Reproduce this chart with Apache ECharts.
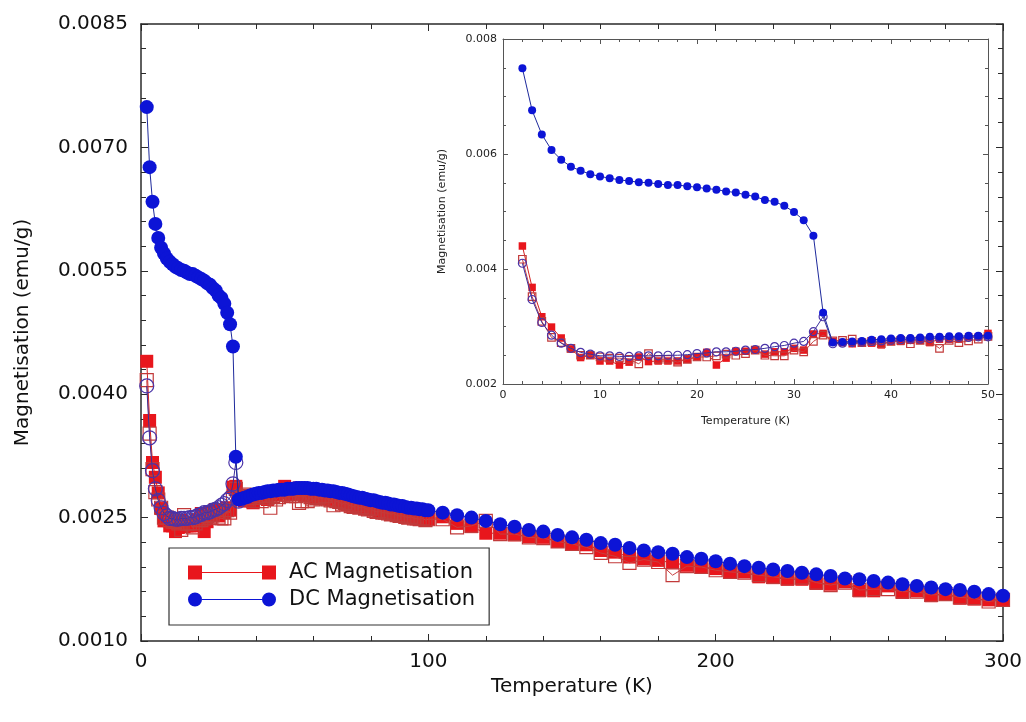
<!DOCTYPE html>
<html>
<head>
<meta charset="utf-8">
<title>Magnetisation vs Temperature</title>
<script src="https://cdn.jsdelivr.net/npm/echarts@6/dist/echarts.min.js"></script>
<style>
  html, body { margin: 0; padding: 0; background: #ffffff; }
  #chart { width: 1026px; height: 722px; }
</style>
</head>
<body>
<div id="chart"></div>
<script>
// Temperatures (K): 1 K steps up to 100 K, then 5 K steps to 300 K
const tempLow = [2,3,4,5,6,7,8,9,10,11,12,13,14,15,16,17,18,19,20,21,22,23,24,25,26,27,28,29,30,
  31,32,33,34,35,36,37,38,39,40,41,42,43,44,45,46,47,48,49,50,51,52,53,54,55,56,57,58,59,60,
  61,62,63,64,65,66,67,68,69,70,71,72,73,74,75,76,77,78,79,80,81,82,83,84,85,86,87,88,89,90,
  91,92,93,94,95,96,97,98,99,100];
const tempHigh = [105,110,115,120,125,130,135,140,145,150,155,160,165,170,175,180,185,190,195,200,
  205,210,215,220,225,230,235,240,245,250,255,260,265,270,275,280,285,290,295,300];

// AC magnetisation (emu/g), filled squares
const acLow = [0.00440,0.00368,0.00317,0.00299,0.00280,0.00261,0.00246,0.00250,0.00240,0.00240,
  0.00233,0.00238,0.00247,0.00239,0.00240,0.00240,0.00240,0.00243,0.00247,0.00255,0.00233,0.00245,
  0.00257,0.00257,0.00259,0.00252,0.00256,0.00256,0.00262,0.00259,0.00287,0.00288,0.00274,0.00272,
  0.00270,0.00272,0.00271,0.00268,0.00274,0.00274,0.00276,0.00276,0.00272,0.00278,0.00278,0.00278,
  0.00282,0.00282,0.00288,
  0.00280,0.00278,0.00284,0.00279,0.00286,0.00280,0.00277,0.00279,0.00276,0.00278,0.00275,0.00283,
  0.00276,0.00280,0.00273,0.00272,0.00271,0.00272,0.00270,0.00268,0.00269,0.00266,0.00265,0.00266,
  0.00264,0.00263,0.00264,0.00261,0.00262,0.00260,0.00259,0.00260,0.00258,0.00258,0.00256,0.00256,
  0.00254,0.00255,0.00253,0.00253,0.00252,0.00252,0.00250,0.00251,0.00250,0.00249,0.00248,0.00249,
  0.00247,0.00248];
const acHigh = [0.00251,0.00243,0.00239,0.00231,0.00231,0.00229,0.00227,0.00226,0.00221,0.00218,
  0.00217,0.00210,0.00208,0.00202,0.00200,0.00198,0.00195,0.00192,0.00190,0.00188,0.00184,0.00184,
  0.00178,0.00177,0.00175,0.00175,0.00170,0.00169,0.00172,0.00161,0.00161,0.00167,0.00159,0.00161,
  0.00155,0.00157,0.00152,0.00151,0.00150,0.00150];

// AC magnetisation (emu/g), second run, open squares
const acOpenLow = [0.00417,0.00352,0.00309,0.00281,0.00272,0.00262,0.00250,0.00250,0.00247,0.00245,
  0.00245,0.00243,0.00235,0.00253,0.00243,0.00243,0.00238,0.00243,0.00247,0.00247,0.00249,0.00252,
  0.00250,0.00253,0.00259,0.00250,0.00249,0.00249,0.00259,0.00256,0.00274,0.00285,0.00275,0.00276,
  0.00278,0.00272,0.00274,0.00270,0.00274,0.00276,0.00270,0.00276,0.00274,0.00262,0.00276,0.00272,
  0.00275,0.00278,0.00283,
  0.00278,0.00276,0.00279,0.00276,0.00268,0.00270,0.00277,0.00270,0.00275,0.00272,0.00274,0.00275,
  0.00273,0.00276,0.00272,0.00271,0.00265,0.00270,0.00269,0.00266,0.00268,0.00266,0.00264,0.00263,
  0.00265,0.00262,0.00263,0.00261,0.00260,0.00261,0.00258,0.00257,0.00258,0.00256,0.00256,0.00255,
  0.00254,0.00255,0.00253,0.00252,0.00252,0.00251,0.00250,0.00251,0.00249,0.00249,0.00248,0.00249,
  0.00247,0.00248];
const acOpenHigh = [0.00248,0.00238,0.00240,0.00246,0.00230,0.00230,0.00226,0.00225,0.00221,0.00218,
  0.00214,0.00207,0.00203,0.00195,0.00199,0.00196,0.00180,0.00191,0.00190,0.00186,0.00184,0.00183,
  0.00180,0.00178,0.00176,0.00177,0.00171,0.00168,0.00171,0.00162,0.00163,0.00163,0.00160,0.00160,
  0.00156,0.00157,0.00153,0.00152,0.00148,0.00150];

// DC magnetisation (emu/g), field cooled, filled circles
const dcLow = [0.00749,0.00676,0.00634,0.00607,0.00590,0.00578,0.00571,0.00565,0.00561,0.00558,
  0.00555,0.00553,0.00551,0.00550,0.00548,0.00546,0.00546,0.00544,0.00542,0.00540,0.00538,0.00535,
  0.00533,0.00529,0.00526,0.00520,0.00517,0.00510,0.00499,0.00485,0.00458,0.00324,
  0.00272,0.00273,0.00274,0.00275,0.00277,0.00278,0.00279,0.00280,0.00280,0.00281,0.00282,0.00282,
  0.00283,0.00283,0.00284,0.00284,0.00284,
  0.00285,0.00285,0.00285,0.00286,0.00286,0.00286,0.00286,0.00286,0.00285,0.00285,0.00285,0.00284,
  0.00284,0.00283,0.00283,0.00282,0.00282,0.00281,0.00280,0.00280,0.00279,0.00278,0.00277,0.00276,
  0.00275,0.00274,0.00274,0.00273,0.00272,0.00271,0.00271,0.00270,0.00269,0.00268,0.00268,0.00267,
  0.00266,0.00266,0.00265,0.00264,0.00264,0.00263,0.00262,0.00262,0.00261,0.00261,0.00260,0.00260,
  0.00259,0.00259];
const dcHigh = [0.00256,0.00253,0.00250,0.00246,0.00242,0.00239,0.00235,0.00233,0.00229,0.00226,
  0.00223,0.00219,0.00217,0.00213,0.00210,0.00208,0.00206,0.00202,0.00200,0.00197,0.00194,0.00191,
  0.00189,0.00187,0.00185,0.00183,0.00181,0.00179,0.00176,0.00175,0.00173,0.00171,0.00169,0.00167,
  0.00165,0.00163,0.00162,0.00160,0.00157,0.00155];

// DC magnetisation (emu/g), zero field cooled, open circles (2-50 K)
const dcZfc = [0.00410,0.00347,0.00307,0.00285,0.00271,0.00262,0.00255,0.00252,0.00249,0.00249,
  0.00248,0.00248,0.00249,0.00249,0.00249,0.00250,0.00250,0.00251,0.00253,0.00254,0.00256,0.00256,
  0.00257,0.00259,0.00260,0.00262,0.00265,0.00267,0.00271,0.00274,0.00291,0.00317,0.00270,0.00271,
  0.00272,0.00273,0.00274,0.00275,0.00276,0.00277,0.00278,0.00278,0.00279,0.00280,0.00280,0.00281,
  0.00281,0.00282,0.00282];

const FONT = 'DejaVu Sans';
const RED = '#e8161c';
const BLUE = '#0c14d6';

function pairs(ts, vs) { return ts.map((t, i) => [t, vs[i]]); }
const insetCount = tempLow.indexOf(50) + 1;
const cut = arr => arr.slice(0, insetCount);
// in the main panel the ZFC branch is drawn through the transition only
const zfcMainCount = tempLow.indexOf(34) + 1;

const allTemps = tempLow.concat(tempHigh);

function frameAxis(grid, pos, min, max, interval, split, main, extra) {
  return Object.assign({
    type: 'value', gridIndex: grid, position: pos, min: min, max: max, interval: interval,
    axisLine: { show: true, onZero: false, lineStyle: { color: main ? '#2a2a2a' : '#555', width: main ? 1.5 : 1 } },
    axisTick: { show: true, inside: true, length: main ? 7 : 5, lineStyle: { color: main ? '#2a2a2a' : '#555' } },
    minorTick: { show: true, splitNumber: split, length: main ? 5 : 3, lineStyle: { color: main ? '#2a2a2a' : '#555' } },
    splitLine: { show: false },
    axisLabel: { show: false }
  }, extra || {});
}

const series = [];
function addSet(xi, yi, acD, acOD, zfcD, fcD, big) {
  const sq = big ? 13 : 7.5, ci = big ? 14 : 8;
  series.push({
    name: big ? 'AC Magnetisation' : 'AC inset', type: 'line', xAxisIndex: xi, yAxisIndex: yi,
    data: acD, symbol: 'rect', symbolSize: sq, z: 2,
    itemStyle: { color: RED }, lineStyle: { color: '#d42020', width: 1 }
  });
  series.push({
    name: big ? 'AC run 2' : 'AC run 2 inset', type: 'line', xAxisIndex: xi, yAxisIndex: yi,
    data: acOD, symbol: 'rect', symbolSize: sq, z: 3,
    itemStyle: { color: 'rgba(0,0,0,0)', borderColor: '#c23a3a', borderWidth: 1.2 },
    lineStyle: { color: '#c84040', width: 1 }
  });
  series.push({
    name: big ? 'DC ZFC' : 'DC ZFC inset', type: 'line', xAxisIndex: xi, yAxisIndex: yi,
    data: zfcD, symbol: 'circle', symbolSize: ci, z: 4,
    itemStyle: { color: 'rgba(0,0,0,0)', borderColor: '#4a34a8', borderWidth: 1.2 },
    lineStyle: { color: '#3a2e9a', width: 1 }
  });
  series.push({
    name: big ? 'DC Magnetisation' : 'DC inset', type: 'line', xAxisIndex: xi, yAxisIndex: yi,
    data: fcD, symbol: 'circle', symbolSize: ci, z: 5,
    itemStyle: { color: BLUE }, lineStyle: { color: '#1e2a9c', width: 1 }
  });
}

addSet(0, 0,
  pairs(allTemps, acLow.concat(acHigh)),
  pairs(allTemps, acOpenLow.concat(acOpenHigh)),
  pairs(tempLow.slice(0, zfcMainCount), dcZfc.slice(0, zfcMainCount)),
  pairs(allTemps, dcLow.concat(dcHigh)), true);
addSet(2, 2,
  pairs(cut(tempLow), cut(acLow)),
  pairs(cut(tempLow), cut(acOpenLow)),
  pairs(cut(tempLow), dcZfc),
  pairs(cut(tempLow), cut(dcLow)), false);

const squareIcon = 'path://M0,0H14V14H0Z M14,6.5H74V7.5H14Z M74,0H88V14H74Z';
const circleIcon = 'path://M0,7A7,7,0,1,1,14,7A7,7,0,1,1,0,7Z M14,6.5H74V7.5H14Z M74,7A7,7,0,1,1,88,7A7,7,0,1,1,74,7Z';

const chart = echarts.init(document.getElementById('chart'), null, { renderer: 'canvas' });
chart.setOption({
  animation: false,
  backgroundColor: '#ffffff',
  textStyle: { fontFamily: FONT },
  grid: [
    { left: 141, top: 24, width: 862, height: 617 },
    { left: 503, top: 39, width: 485, height: 345 }
  ],
  legend: {
    orient: 'vertical', left: 169, top: 548,
    padding: [14, 14, 15, 19], itemGap: 6,
    itemWidth: 88, itemHeight: 14,
    borderColor: '#333', borderWidth: 1.2,
    textStyle: { fontFamily: FONT, fontSize: 21, color: '#111', padding: [0, 0, 0, 8] },
    data: [
      { name: 'AC Magnetisation', icon: squareIcon },
      { name: 'DC Magnetisation', icon: circleIcon }
    ]
  },
  xAxis: [
    frameAxis(0, 'bottom', 0, 300, 100, 5, true, {
      axisLabel: { show: true, fontFamily: FONT, fontSize: 20, color: '#111', margin: 11 },
      name: 'Temperature (K)', nameLocation: 'middle', nameGap: 31,
      nameTextStyle: { fontFamily: FONT, fontSize: 20, color: '#111' }
    }),
    frameAxis(0, 'top', 0, 300, 100, 5, true),
    frameAxis(1, 'bottom', 0, 50, 10, 5, false, {
      axisLabel: { show: true, fontFamily: FONT, fontSize: 11, color: '#222', margin: 6 },
      name: 'Temperature (K)', nameLocation: 'middle', nameGap: 32,
      nameTextStyle: { fontFamily: FONT, fontSize: 11, color: '#222' }
    }),
    frameAxis(1, 'top', 0, 50, 10, 5, false)
  ],
  yAxis: [
    frameAxis(0, 'left', 0.001, 0.0085, 0.0015, 5, true, {
      axisLabel: { show: true, fontFamily: FONT, fontSize: 20, color: '#111', margin: 13,
        formatter: v => v.toFixed(4) },
      name: 'Magnetisation (emu/g)', nameLocation: 'middle', nameGap: 108,
      nameTextStyle: { fontFamily: FONT, fontSize: 20, color: '#111' }
    }),
    frameAxis(0, 'right', 0.001, 0.0085, 0.0015, 5, true),
    frameAxis(1, 'left', 0.002, 0.008, 0.002, 4, false, {
      axisLabel: { show: true, fontFamily: FONT, fontSize: 11, color: '#222', margin: 6,
        formatter: v => v.toFixed(3) },
      name: 'Magnetisation (emu/g)', nameLocation: 'middle', nameGap: 55,
      nameTextStyle: { fontFamily: FONT, fontSize: 11, color: '#222' }
    }),
    frameAxis(1, 'right', 0.002, 0.008, 0.002, 4, false)
  ],
  series: series
});
</script>
</body>
</html>
